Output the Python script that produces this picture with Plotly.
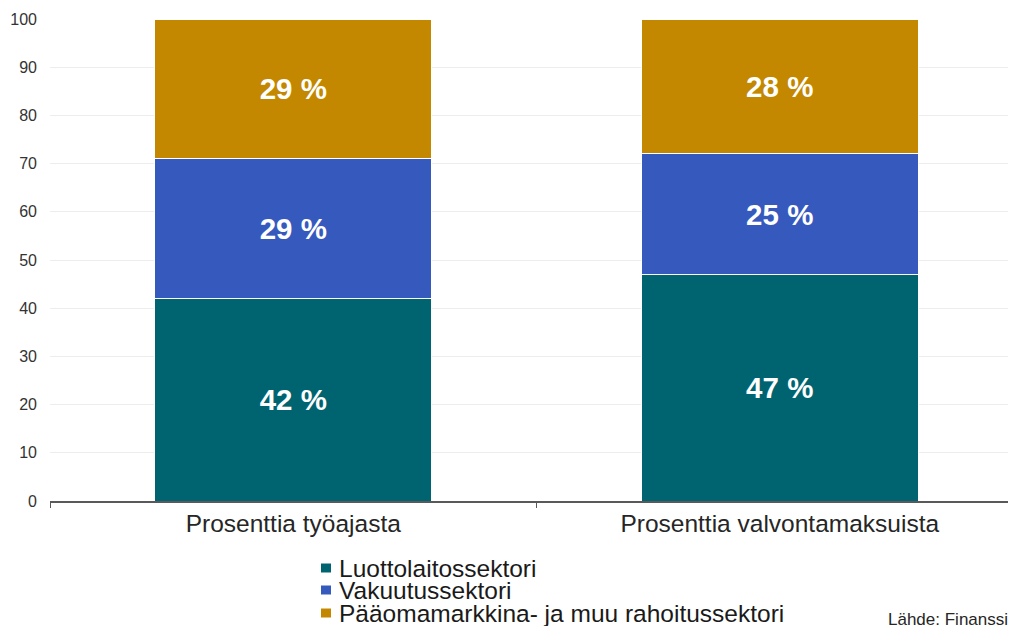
import plotly.graph_objects as go

categories = ["Prosenttia työajasta", "Prosenttia valvontamaksuista"]
series_names = ["Luottolaitossektori", "Vakuutussektori", "Pääomamarkkina- ja muu rahoitussektori"]
luotto = [42, 47]
vakuutus = [29, 25]
paaoma = [29, 28]
series_values = [luotto, vakuutus, paaoma]
colors = ["#006470", "#3659BE", "#C38800"]
y_ticks = list(range(0, 101, 10))
source_text = "Lähde: Finanssivalvonta"

# page has an 8px body margin; figure drawn at offset (8, 8)
OFF = 8
W, H = 1016 - OFF, 626 - OFF
ML, MR, MT, MB = 50 - OFF, 0, 19 - OFF, 125
PW = W - ML - MR
PH = H - MT - MB

def px_x(px):
    return (px - OFF - ML) / PW

def px_y(py):
    return (H - MB - (py - OFF)) / PH

FONT = "Liberation Sans, Arial, sans-serif"

fig = go.Figure()
for name, vals, col in zip(series_names, series_values, colors):
    fig.add_trace(go.Bar(
        x=categories, y=vals, name=name,
        marker=dict(color=col, line=dict(color="white", width=1)),
        width=0.57,
        texttemplate="%{y} %",
        textposition="inside",
        insidetextanchor="middle",
        textfont=dict(family=FONT, size=29.5, color="white", weight="bold"),
        constraintext="none",
        showlegend=False,
    ))

# manual legend (compact line spacing like the original)
legend_centers = [568, 590, 613]
for name, col, cy in zip(series_names, colors, legend_centers):
    fig.add_shape(type="rect", xref="paper", yref="paper",
                  x0=px_x(321), x1=px_x(331), y0=px_y(cy + 4.5), y1=px_y(cy - 4.5),
                  fillcolor=col, line=dict(width=0))
    fig.add_annotation(xref="paper", yref="paper", x=px_x(337), y=px_y(cy),
                       xanchor="left", yanchor="middle", showarrow=False,
                       text=name, font=dict(family=FONT, size=24.5, color="#1a1a1a"))

fig.add_annotation(xref="paper", yref="paper", x=px_x(886), y=px_y(619),
                   xanchor="left", yanchor="middle", showarrow=False,
                   text=source_text, font=dict(family=FONT, size=17, color="#262626"))

fig.update_layout(
    width=W, height=H,
    margin=dict(l=ML, r=MR, t=MT, b=MB, autoexpand=False),
    barmode="stack",
    plot_bgcolor="white", paper_bgcolor="white",
    font=dict(family=FONT),
)
fig.update_xaxes(
    range=[-0.5, 1.5 - 7 / 487],
    showline=True, linecolor="#595959", linewidth=1.5,
    ticks="outside", tickson="boundaries", ticklen=5, tickcolor="#595959", tickwidth=1,
    tickfont=dict(family=FONT, size=24.5, color="#262626"),
    showgrid=False,
)
fig.update_yaxes(
    range=[0, 100], tickvals=y_ticks,
    showline=False, zeroline=False,
    showgrid=True, gridcolor="#EDEDED", gridwidth=1,
    tickfont=dict(family=FONT, size=16, color="#333333"),
    ticklabelstandoff=12,
)

fig.write_html("out.html")
